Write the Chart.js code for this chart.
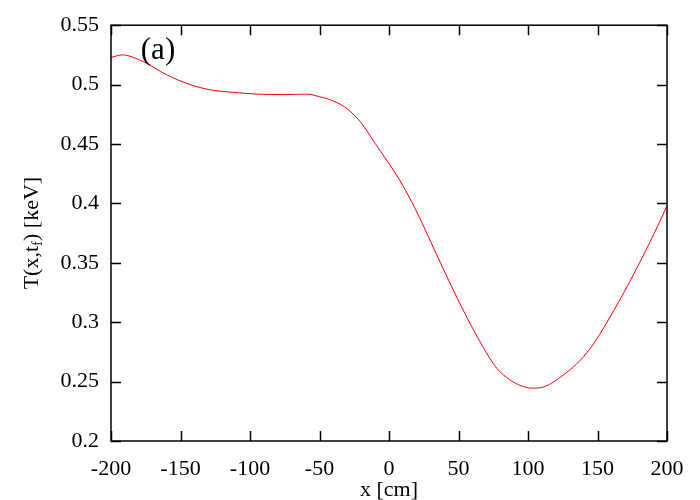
<!DOCTYPE html>
<html>
<head>
<meta charset="utf-8">
<script src="https://cdn.jsdelivr.net/npm/chart.js@4.4.1/dist/chart.umd.min.js"></script>
<style>
  html, body { margin: 0; padding: 0; background: #fff; }
  #wrap { width: 700px; height: 500px; }
</style>
</head>
<body>
<div id="wrap"><canvas id="tempChart" width="700" height="500"></canvas></div>
<script>
// x positions [cm] and temperature T(x,t_f) [keV]
const xPos = [-200, -192, -177, -160, -143, -129, -112, -95, -76, -59, -50, -40, -30, -20, -10, 0, 8, 16, 22, 34, 51, 67.5, 77.5, 87, 95, 103, 111, 125.6, 137.8, 147.4, 161.8, 176.2, 190.6, 200];
const tempVals = [0.5228, 0.525, 0.5194, 0.5083, 0.500, 0.4957, 0.4935, 0.492, 0.4916, 0.492, 0.4898, 0.4862, 0.4795, 0.4678, 0.4505, 0.4335, 0.419, 0.402, 0.388, 0.3576, 0.3157, 0.2794, 0.2613, 0.2515, 0.2465, 0.2445, 0.2454, 0.2557, 0.2682, 0.2822, 0.310, 0.3408, 0.3743, 0.398];

const xTicks = [-200, -150, -100, -50, 0, 50, 100, 150, 200];
const yTicks = [0.2, 0.25, 0.3, 0.35, 0.4, 0.45, 0.5, 0.55];

const serif = "'Liberation Serif', 'DejaVu Serif', serif";

// gnuplot-like frame: inward ticks on all four sides, titles, panel label
const framePlugin = {
  id: "frame",
  afterDraw(chart) {
    const ctx = chart.ctx;
    const a = chart.chartArea;
    const xs = chart.scales.x, ys = chart.scales.y;
    const len = 10;
    ctx.save();
    ctx.strokeStyle = "#000";
    ctx.lineWidth = 1.5;
    ctx.strokeRect(a.left, a.top, a.right - a.left, a.bottom - a.top);
    ctx.beginPath();
    xTicks.forEach(v => {
      const px = Math.round(xs.getPixelForValue(v)) + 0.5;
      ctx.moveTo(px, a.bottom); ctx.lineTo(px, a.bottom - len);
      ctx.moveTo(px, a.top); ctx.lineTo(px, a.top + len);
    });
    yTicks.forEach(v => {
      const py = Math.round(ys.getPixelForValue(v)) + 0.5;
      ctx.moveTo(a.left, py); ctx.lineTo(a.left + len, py);
      ctx.moveTo(a.right, py); ctx.lineTo(a.right - len, py);
    });
    ctx.stroke();

    ctx.fillStyle = "#000";
    // x title
    ctx.font = "22px " + serif;
    ctx.textAlign = "center";
    ctx.textBaseline = "middle";
    ctx.fillText("x [cm]", (a.left + a.right) / 2, 490);

    // y title with subscript f
    ctx.save();
    ctx.translate(32, (a.top + a.bottom) / 2);
    ctx.rotate(-Math.PI / 2);
    ctx.textAlign = "left";
    ctx.textBaseline = "middle";
    const p1 = "T(x,t", sub = "f", p2 = ") [keV]";
    ctx.font = "22px " + serif;
    const w1 = ctx.measureText(p1).width, w3 = ctx.measureText(p2).width;
    ctx.font = "15px " + serif;
    const w2 = ctx.measureText(sub).width;
    let x0 = -(w1 + w2 + w3) / 2;
    ctx.font = "22px " + serif;
    ctx.fillText(p1, x0, 0);
    ctx.font = "15px " + serif;
    ctx.fillText(sub, x0 + w1, 6);
    ctx.font = "22px " + serif;
    ctx.fillText(p2, x0 + w1 + w2, 0);
    ctx.restore();

    // panel label
    ctx.font = "31px " + serif;
    ctx.textAlign = "center";
    ctx.textBaseline = "middle";
    ctx.fillText("(a)", 158, 51);
    ctx.restore();
  }
};

new Chart(document.getElementById("tempChart"), {
  type: "scatter",
  data: {
    datasets: [{
      label: "T(x,t_f)",
      data: xPos.map((x, i) => ({ x: x, y: tempVals[i] })),
      showLine: true,
      borderColor: "#ff0000",
      borderWidth: 1,
      pointRadius: 0,
      cubicInterpolationMode: "monotone",
      fill: false
    }]
  },
  options: {
    responsive: false,
    animation: false,
    layout: { padding: { top: 23, right: 33, left: 0, bottom: 0 } },
    plugins: { legend: { display: false }, tooltip: { enabled: false } },
    scales: {
      x: {
        type: "linear",
        min: -200, max: 200,
        afterBuildTicks: s => { s.ticks = xTicks.map(v => ({ value: v })); },
        afterFit: s => { s.height = 59; },
        grid: { display: false, drawTicks: false },
        border: { display: false },
        ticks: { color: "#000", font: { family: serif, size: 22 }, padding: 15, maxRotation: 0 }
      },
      y: {
        min: 0.2, max: 0.55,
        afterBuildTicks: s => { s.ticks = yTicks.map(v => ({ value: v })); },
        afterFit: s => { s.width = 111; },
        grid: { display: false, drawTicks: false },
        border: { display: false },
        ticks: {
          color: "#000", font: { family: serif, size: 22 }, padding: 12,
          callback: v => String(Number(v.toFixed(2)))
        }
      }
    }
  },
  plugins: [framePlugin]
});
</script>
</body>
</html>
